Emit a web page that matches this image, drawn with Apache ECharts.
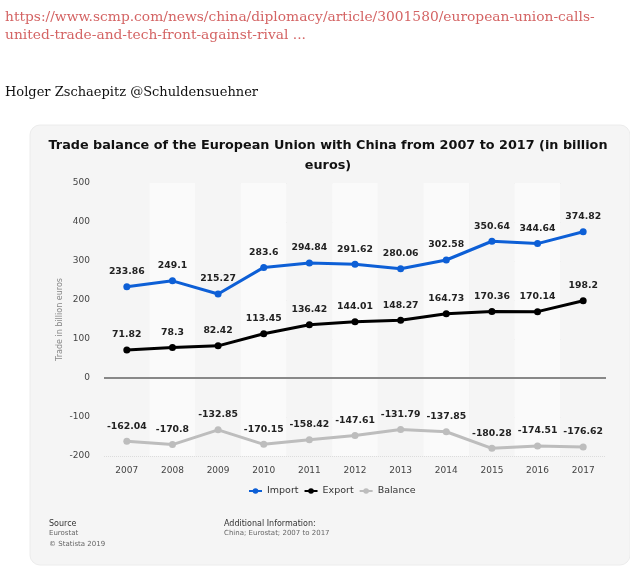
<!DOCTYPE html>
<html><head><meta charset="utf-8">
<script src="https://cdn.jsdelivr.net/npm/echarts@6/dist/echarts.min.js"></script>
<style>html,body{margin:0;padding:0;background:#fff}#c{width:630px;height:584px}</style>
</head><body><div id="c"></div>
<script>
const years = ['2007','2008','2009','2010','2011','2012','2013','2014','2015','2016','2017'];
const importVals = [233.86, 249.1, 215.27, 283.6, 294.84, 291.62, 280.06, 302.58, 350.64, 344.64, 374.82];
const exportVals = [71.82, 78.3, 82.42, 113.45, 136.42, 144.01, 148.27, 164.73, 170.36, 170.14, 198.2];
const balanceVals = [-162.04, -170.8, -132.85, -170.15, -158.42, -147.61, -131.79, -137.85, -180.28, -174.51, -176.62];

const chart = echarts.init(document.getElementById('c'), null, {renderer:'canvas'});
const lbl = {show:true, position:'top', distance:7, fontFamily:'DejaVu Sans', fontWeight:'bold', fontSize:9.3, color:'#222'};
function ser(name, data, color){
  return {name, type:'line', data, symbol:'circle', symbolSize:7, z:5,
    lineStyle:{width:3, color}, itemStyle:{color},
    label: lbl};
}
chart.setOption({
  backgroundColor:'#ffffff',
  animation:false,
  graphic:[
    {type:'rect', shape:{x:30, y:125, width:600, height:440, r:10}, style:{fill:'#f5f5f5', stroke:'#ececec'}, z:-10},
    {type:'text', left:5, top:10, style:{text:'https://www.scmp.com/news/china/diplomacy/article/3001580/european-union-calls-', font:'13.8px "DejaVu Serif"', fill:'#d46464'}},
    {type:'text', left:5, top:28, style:{text:'united-trade-and-tech-front-against-rival ...', font:'13.8px "DejaVu Serif"', fill:'#d46464'}},
    {type:'text', left:5, top:86, style:{text:'Holger Zschaepitz @Schuldensuehner', font:'13px "DejaVu Serif"', fill:'#111'}},
    {type:'text', left:49, top:520, style:{text:'Source', font:'8px "DejaVu Sans"', fill:'#333'}},
    {type:'text', left:49, top:530, style:{text:'Eurostat', font:'7px "DejaVu Sans"', fill:'#666'}},
    {type:'text', left:49, top:541, style:{text:'© Statista 2019', font:'7px "DejaVu Sans"', fill:'#666'}},
    {type:'text', left:224, top:520, style:{text:'Additional Information:', font:'8px "DejaVu Sans"', fill:'#333'}},
    {type:'text', left:224, top:530, style:{text:'China; Eurostat; 2007 to 2017', font:'7px "DejaVu Sans"', fill:'#666'}}
  ],
  title:{
    text:'Trade balance of the European Union with China from 2007 to 2017 (in billion\neuros)',
    left:323, textAlign:'center', top:131,
    textStyle:{fontFamily:'DejaVu Sans', fontWeight:'bold', fontSize:12.8, color:'#111', lineHeight:20}
  },
  legend:{
    top:481, left:243, itemWidth:13, itemHeight:7, itemGap:5,
    textStyle:{fontFamily:'DejaVu Sans', fontSize:9.5, color:'#333'},
    data:['Import','Export','Balance']
  },
  grid:{left:104, right:24, top:183, bottom:128},
  xAxis:{
    type:'category', data:years, boundaryGap:true,
    axisLine:{show:false}, axisTick:{show:false},
    axisLabel:{fontFamily:'DejaVu Sans', fontSize:9, color:'#444', margin:10},
    splitArea:{show:true, areaStyle:{color:['rgba(245,245,245,1)','rgba(250,250,250,1)']}}
  },
  yAxis:{
    type:'value', min:-200, max:500, interval:100,
    name:'Trade in billion euros', nameLocation:'middle', nameGap:40, nameMoveOverlap:false,
    nameTextStyle:{fontFamily:'DejaVu Sans', fontSize:8, color:'#888'},
    axisLine:{show:false}, axisTick:{show:false},
    axisLabel:{fontFamily:'DejaVu Sans', fontSize:9, color:'#444', margin:14},
    splitLine:{lineStyle:{color:'#dcdcdc', type:'dotted', width:1}}
  },
  series:[
    ser('Import', importVals, '#0d5fd6'),
    ser('Export', exportVals, '#000000'),
    ser('Balance', balanceVals, '#bdbdbd'),
    {type:'line', data:[], markLine:{silent:true, symbol:'none', label:{show:false}, lineStyle:{color:'#888', width:2, type:'solid'}, data:[{yAxis:0}]}}
  ]
});
</script></body></html>
